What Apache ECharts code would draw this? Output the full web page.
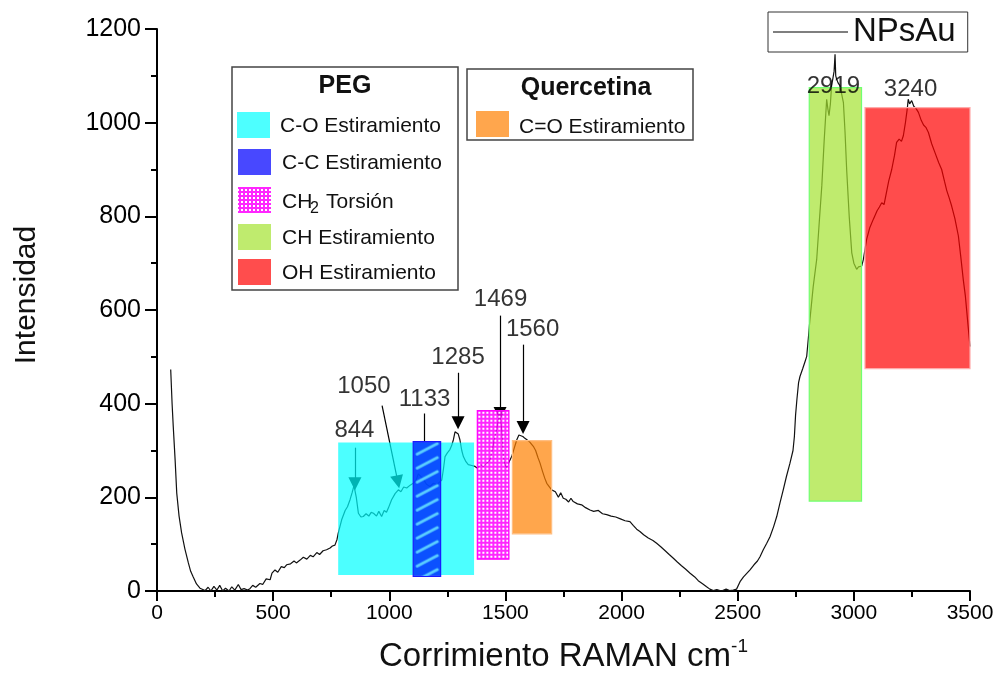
<!DOCTYPE html>
<html>
<head>
<meta charset="utf-8">
<script src="https://cdn.jsdelivr.net/npm/echarts@6/dist/echarts.min.js"></script>
<style>
  html, body { margin: 0; padding: 0; background: #fff; }
  #chart { width: 1000px; height: 682px; }
</style>
</head>
<body>
<div id="chart"></div>
<script>
// espectro Raman NPsAu
var ramanShift = [
  59, 65, 70, 78, 85, 95, 106, 120, 135, 145,
  156, 170, 185, 207, 220, 232, 245, 258, 270, 283,
  295, 310, 322, 335, 350, 362, 375, 390, 400, 412,
  425, 443, 455, 470, 487, 495, 508, 520, 535, 548,
  558, 575, 590, 600, 616, 630, 645, 660, 672, 688,
  700, 715, 730, 745, 755, 766, 775, 780, 795, 810,
  820, 831, 840, 848, 852, 858, 867, 878, 888, 900,
  912, 922, 932, 945, 955, 967, 978, 988, 996, 1010,
  1025, 1039, 1050, 1062, 1075, 1090, 1103, 1115, 1125, 1132,
  1145, 1160, 1175, 1190, 1204, 1215, 1226, 1233, 1240, 1250,
  1261, 1268, 1276, 1283, 1290, 1297, 1304, 1312, 1319, 1330,
  1340, 1355, 1369, 1380, 1392, 1405, 1418, 1425, 1434, 1445,
  1455, 1462, 1470, 1476, 1480, 1485, 1491, 1498, 1505, 1515,
  1527, 1538, 1549, 1558, 1566, 1575, 1584, 1592, 1605, 1620,
  1630, 1640, 1649, 1660, 1670, 1678, 1690, 1699, 1706, 1715,
  1728, 1738, 1749, 1760, 1772, 1782, 1792, 1810, 1828, 1845,
  1864, 1880, 1900, 1918, 1936, 1955, 1975, 1995, 2015, 2036,
  2050, 2065, 2079, 2095, 2115, 2135, 2151, 2170, 2190, 2205,
  2223, 2240, 2258, 2275, 2295, 2315, 2330, 2350, 2366, 2380,
  2395, 2410, 2430, 2450, 2465, 2481, 2495, 2510, 2525, 2540,
  2553, 2570, 2585, 2596, 2610, 2625, 2639, 2655, 2668, 2682,
  2696, 2710, 2725, 2738, 2744, 2749, 2755, 2762, 2768, 2780,
  2790, 2797, 2805, 2811, 2825, 2840, 2850, 2862, 2872, 2883,
  2888, 2893, 2899, 2904, 2910, 2915, 2919, 2922, 2926, 2932,
  2940, 2948, 2955, 2962, 2969, 2980, 2991, 3000, 3012, 3020,
  3028, 3034, 3041, 3048, 3055, 3068, 3084, 3100, 3110, 3120,
  3130, 3140, 3150, 3163, 3175, 3184, 3195, 3205, 3213, 3222,
  3230, 3234, 3240, 3249, 3258, 3268, 3278, 3290, 3300, 3310,
  3321, 3335, 3350, 3365, 3378, 3390, 3400, 3410, 3421, 3435,
  3450, 3460, 3471, 3480, 3492, 3500
];
var intensity = [
  473, 400, 351, 280, 209, 160, 124, 90, 60, 42,
  30, 15, 6, 1, 8, 0, 10, 2, 12, 0,
  6, 0, 9, 2, 14, 3, 5, 2, 5, 12,
  8, 16, 14, 26, 24, 38, 45, 40, 52, 50,
  56, 58, 64, 60, 66, 72, 68, 76, 73, 82,
  78, 86, 88, 92, 96, 98, 110, 123, 152, 172,
  180, 195, 210, 225, 226, 200, 166, 158, 159, 165,
  160, 168, 166, 160, 170, 159, 172, 168, 177, 195,
  208, 216, 212, 222, 220, 226, 230, 236, 250, 248,
  240, 228, 223, 230, 227, 232, 237, 260, 287, 295,
  302, 310, 323, 340, 344, 335, 323, 300, 287, 276,
  270, 268, 266, 262, 270, 266, 272, 275, 280, 305,
  330, 345, 366, 378, 381, 340, 287, 270, 263, 275,
  287, 305, 323, 333, 337, 330, 326, 323, 318, 309,
  300, 285, 273, 255, 240, 230, 222, 216, 216, 212,
  200, 210, 198, 196, 190, 198, 191, 186, 184, 178,
  173, 170, 172, 165, 163, 160, 158, 154, 150, 148,
  140, 132, 127, 120, 113, 108, 102, 94, 85, 78,
  70, 62, 54, 47, 38, 30, 22, 15, 9, 4,
  1, 3, 0, 4, 1, 2, 4, 20, 30, 38,
  45, 56, 64, 73, 88, 102, 116, 138, 159, 188,
  216, 245, 273, 300, 330, 375, 410, 445, 458, 475,
  490, 501, 545, 580, 650, 708, 780, 865, 960, 1050,
  1030, 1015, 1040, 1079, 1095, 1110, 1146, 1100, 1093, 1085,
  1079, 1060, 1043, 980, 900, 800, 722, 700, 687, 692,
  690, 694, 708, 730, 751, 775, 794, 812, 820, 829,
  825, 850, 875, 900, 930, 958, 965, 960, 972, 1000,
  1030, 1050, 1040, 1047, 1035, 1030, 1022, 1005, 995, 990,
  979, 955, 935, 915, 900, 875, 855, 840, 822, 795,
  758, 715, 665, 630, 565, 522
];

// bandas asignadas (rangos en cm-1 e intensidad)
var bandNames = ['C-O Estiramiento', 'C-C Estiramiento', 'CH2 Torsión', 'C=O Estiramiento', 'CH Estiramiento', 'OH Estiramiento'];
var bandStart = [780, 1103, 1379, 1530, 2808, 3048];
var bandEnd = [1365, 1221, 1515, 1699, 3033, 3500];
var bandLow = [34, 31, 68, 122, 192, 475];
var bandHigh = [317, 319, 385, 321, 1075, 1032];

// picos marcados
var peakLabels = ['844', '1050', '1133', '1285', '1469', '1560', '2919', '3240'];
var peakLabelX = [850, 891, 1152, 1296, 1479, 1617, 2912, 3244];
var peakLabelY = [344, 436, 409, 498, 622, 558, 1078, 1072];
// flechas: desde (x, y) hasta (x, y)
var arrowFromX = [852, 969, 1149, 1296, 1477, 1576];
var arrowFromY = [306, 396, 379, 466, 588, 526];
var arrowToX = [852, 1037, 1149, 1296, 1477, 1576];
var arrowToY = [229, 233, 319, 359, 379, 349];
var arrowHead = [true, true, false, true, true, true];

var xTicks = { min: 0, max: 3500, interval: 500 };
var yTicks = { min: 0, max: 1200, interval: 200 };

// patrones de relleno
function hatchPattern() {
  var c = document.createElement('canvas');
  c.width = 28; c.height = 14;
  var g = c.getContext('2d');
  g.fillStyle = 'rgba(0,50,255,0.85)';
  g.fillRect(0, 0, 28, 14);
  g.strokeStyle = 'rgba(90,205,255,1)';
  g.lineWidth = 3;
  g.lineCap = 'round';
  g.beginPath();
  g.moveTo(4, 12.5); g.lineTo(24, 2);
  g.stroke();
  return c;
}
function dotPattern() {
  var c = document.createElement('canvas');
  c.width = 4; c.height = 4;
  var g = c.getContext('2d');
  g.fillStyle = 'rgba(255,0,255,0.85)';
  g.fillRect(0, 0, 4, 4);
  g.fillStyle = '#ffffff';
  g.fillRect(1, 1, 2, 2);
  return c;
}
var hatchImg = hatchPattern();
var dotImg = dotPattern();

var bandFill = [
  'rgba(0,255,255,0.7)', 'hatch', 'dots',
  'rgba(255,128,0,0.7)', 'rgba(164,226,48,0.7)', 'rgba(255,0,0,0.7)'
];
var bandStroke = [null, '#1a1aff', '#ff00ff', 'rgba(255,190,130,1)', '#70ff70', 'rgba(255,170,170,1)'];

var chart = echarts.init(document.getElementById('chart'), null, { renderer: 'canvas' });

var spectrum = ramanShift.map(function (x, i) { return [x, intensity[i]]; });
var bandData = bandStart.map(function (s, i) { return [s, bandEnd[i], bandLow[i], bandHigh[i]]; });
var labelData = peakLabels.map(function (t, i) { return { name: t, value: [peakLabelX[i], peakLabelY[i]] }; });
var arrowData = arrowFromX.map(function (x, i) {
  var end = { coord: [arrowToX[i], arrowToY[i]] };
  if (!arrowHead[i]) end.symbol = 'none';
  return [{ coord: [x, arrowFromY[i]], symbol: 'none' }, end];
});

var sans = "'Liberation Sans', Arial, sans-serif";

function swatch(x, y, fill) {
  return { type: 'rect', shape: { x: x, y: y, width: 33, height: 26 }, style: { fill: fill }, z: 20 };
}
function itemText(x, y, t) {
  return { type: 'text', x: x, y: y, style: { text: t, font: '21px ' + sans, fill: '#111', textVerticalAlign: 'middle' }, z: 20 };
}
function plain(v) { return String(v); }

chart.setOption({
  animation: false,
  backgroundColor: '#fff',
  grid: { left: 157, right: 30, top: 29, bottom: 91, containLabel: false },
  legend: {
    data: [{ name: 'NPsAu', icon: 'rect' }],
    left: 768, top: 12,
    padding: [2, 12, 2, 5],
    borderColor: '#333', borderWidth: 1,
    itemWidth: 75, itemHeight: 1.5,
    itemStyle: { color: '#555' },
    textStyle: { fontSize: 33, fontFamily: sans, color: '#111', lineHeight: 36 }
  },
  xAxis: {
    type: 'value',
    min: xTicks.min, max: xTicks.max, interval: xTicks.interval,
    name: '{a|Corrimiento RAMAN cm}{s|-1}',
    nameLocation: 'middle', nameGap: 46,
    nameTextStyle: {
      rich: {
        a: { fontSize: 33, fontFamily: sans, color: '#111', lineHeight: 40 },
        s: { fontSize: 19, fontFamily: sans, color: '#111', verticalAlign: 'top', lineHeight: 40 }
      }
    },
    axisLine: { show: true, onZero: false, lineStyle: { color: '#000', width: 2 } },
    axisTick: { show: true, inside: false, length: 10, lineStyle: { color: '#000', width: 2 } },
    minorTick: { show: true, splitNumber: 2, length: 6, lineStyle: { color: '#000', width: 2 } },
    axisLabel: { fontSize: 21, fontFamily: sans, color: '#000', margin: 12, formatter: plain },
    splitLine: { show: false }
  },
  yAxis: {
    type: 'value',
    min: yTicks.min, max: yTicks.max, interval: yTicks.interval,
    name: 'Intensidad',
    nameLocation: 'middle', nameGap: 115,
    nameTextStyle: { fontSize: 30, fontFamily: sans, color: '#111', padding: [0, 0, 0, 30] },
    axisLine: { show: true, onZero: false, lineStyle: { color: '#000', width: 2 } },
    axisTick: { show: true, inside: false, length: 12, lineStyle: { color: '#000', width: 2 } },
    minorTick: { show: true, splitNumber: 2, length: 6, lineStyle: { color: '#000', width: 2 } },
    axisLabel: { fontSize: 25, fontFamily: sans, color: '#000', margin: 16, formatter: plain },
    splitLine: { show: false }
  },
  series: [
    {
      name: 'NPsAu',
      type: 'line',
      data: spectrum,
      symbol: 'none',
      showSymbol: false,
      lineStyle: { color: '#111', width: 1.2 },
      itemStyle: { color: '#555' },
      z: 2,
      markLine: {
        silent: true,
        symbol: ['none', 'triangle'],
        symbolSize: 13,
        label: { show: false },
        lineStyle: { color: '#000', width: 1.2, type: 'solid' },
        data: arrowData
      }
    },
    {
      name: 'bandas',
      type: 'custom',
      data: bandData,
      encode: { x: [0, 1], y: [2, 3] },
      z: 10,
      silent: true,
      renderItem: function (params, api) {
        var i = params.dataIndex;
        var p0 = api.coord([api.value(0), api.value(3)]);
        var p1 = api.coord([api.value(1), api.value(2)]);
        var fill = bandFill[i];
        if (fill === 'hatch') fill = { image: hatchImg, repeat: 'repeat', x: p0[0], y: p0[1] };
        if (fill === 'dots') fill = { image: dotImg, repeat: 'repeat', x: p0[0], y: p0[1] };
        return {
          type: 'rect',
          shape: { x: p0[0], y: p0[1], width: p1[0] - p0[0], height: p1[1] - p0[1] },
          style: { fill: fill, stroke: bandStroke[i], lineWidth: bandStroke[i] ? 1.2 : 0 }
        };
      }
    },
    {
      name: 'picos',
      type: 'scatter',
      data: labelData,
      symbol: 'circle',
      symbolSize: 1,
      itemStyle: { color: 'rgba(0,0,0,0)' },
      z: 12,
      silent: true,
      label: {
        show: true, position: 'inside', formatter: '{b}',
        fontSize: 24, fontFamily: sans, color: '#000'
      }
    }
  ],
  graphic: [
    // cuadro PEG
    { type: 'rect', shape: { x: 232, y: 67, width: 226, height: 223 }, style: { fill: '#fff', stroke: '#444', lineWidth: 1.5 }, z: 19 },
    { type: 'text', x: 345, y: 86, style: { text: 'PEG', font: 'bold 25px ' + sans, fill: '#111', textAlign: 'center', textVerticalAlign: 'middle' }, z: 20 },
    swatch(237, 112, '#4dffff'),
    itemText(280, 126, 'C-O Estiramiento'),
    swatch(238, 149, '#4848ff'),
    itemText(282, 163, 'C-C Estiramiento'),
    swatch(238, 187, { image: dotImg, repeat: 'repeat' }),
    itemText(282, 202, 'CH'),
    { type: 'text', x: 310, y: 209, style: { text: '2', font: '16px ' + sans, fill: '#111', textVerticalAlign: 'middle' }, z: 20 },
    itemText(326, 202, 'Torsión'),
    swatch(238, 224, '#bfeb6e'),
    itemText(282, 238, 'CH Estiramiento'),
    swatch(238, 259, '#ff4d4d'),
    itemText(282, 273, 'OH Estiramiento'),
    // cuadro Quercetina
    { type: 'rect', shape: { x: 467, y: 69, width: 226, height: 71 }, style: { fill: '#fff', stroke: '#444', lineWidth: 1.5 }, z: 19 },
    { type: 'text', x: 586, y: 88, style: { text: 'Quercetina', font: 'bold 25px ' + sans, fill: '#111', textAlign: 'center', textVerticalAlign: 'middle' }, z: 20 },
    swatch(476, 111, '#ffa64d'),
    itemText(519, 127, 'C=O Estiramiento')
  ]
});
</script>
</body>
</html>
